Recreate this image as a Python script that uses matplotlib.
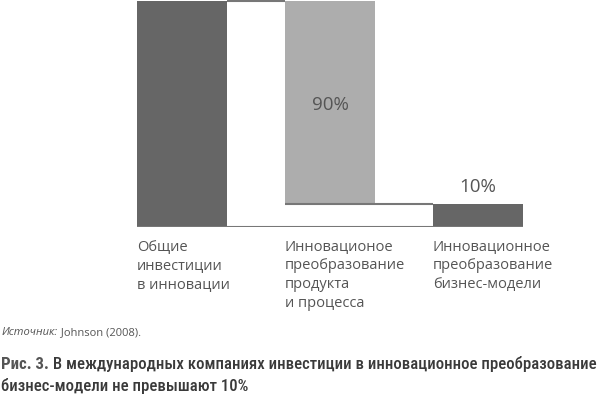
import matplotlib
matplotlib.use("Agg")
import matplotlib.pyplot as plt
from matplotlib import font_manager
import numpy as np

# data (waterfall: total -> product/process -> business model)
categories = ["Общие\nинвестиции\nв инновации",
              "Инновационое\nпреобразование\nпродукта\nи процесса",
              "Инновационное\nпреобразование\nбизнес-модели"]
values = [100, 90, 10]
bottoms = [0, 10, 0]
value_labels = ["", "90%", "10%"]
bar_colors = ["#666666", "#adadad", "#666666"]

source_lead = "Источник:"
source_rest = " Johnson (2008)."
caption_lead = "Рис. 3."
caption_line1 = " В международных компаниях инвестиции в инновационное преобразование"
caption_line2 = "бизнес-модели не превышают 10%"

names = {f.name for f in font_manager.fontManager.ttflist}
narrow = None
for cand in ["Liberation Sans Narrow", "Roboto Condensed", "Open Sans Condensed"]:
    if cand in names:
        narrow = cand
        break
body_font = "Open Sans" if "Open Sans" in names else "DejaVu Sans"

W, H = 600, 398
fig = plt.figure(figsize=(W / 100, H / 100), dpi=100)
ax = fig.add_axes([137 / W, 1 - 227 / H, (523 - 137) / W, 227 / H])

x = np.arange(len(values))
width = 0.61
ax.bar(x, values, width, bottom=bottoms, color=bar_colors, linewidth=0, zorder=2)

# connector lines and baseline
line_kw = dict(color="#777777", lw=1.5, zorder=3, solid_capstyle="butt")
ax.plot([x[0] + width / 2, x[1] - width / 2], [values[0], values[0]], **line_kw)
ax.plot([x[1] - width / 2, x[2] - width / 2], [bottoms[1], bottoms[1]], **line_kw)
ax.plot([x[0] - width / 2, x[2] + width / 2], [0, 0], **line_kw)

ax.text(x[1], bottoms[1] + values[1] * 0.49, value_labels[1], ha="center", va="center",
        fontsize=13.5, color="#555555", family=body_font)
ax.text(x[2], values[2] + 7.8, value_labels[2], ha="center", va="center",
        fontsize=13.5, color="#555555", family=body_font)

ax.set_xlim(-width / 2, x[-1] + width / 2)
ax.set_ylim(0, 100.5)
ax.set_xticks(x - width / 2)
ax.set_xticklabels(categories, ha="left", va="top", fontsize=10.5, color="#555555",
                   family=body_font, linespacing=1.35)
ax.tick_params(axis="x", length=0, pad=9)
ax.set_yticks([])
for s in ax.spines.values():
    s.set_visible(False)

fig.canvas.draw()
r = fig.canvas.get_renderer()

# source line
t = fig.text(2 / W, 1 - 335 / H, source_lead, fontsize=8, style="italic",
             color="#555555", family=body_font, va="baseline")
bb = t.get_window_extent(r)
fig.text(bb.x1 / W, 1 - 335 / H, source_rest, fontsize=8, color="#555555",
         family=body_font, va="baseline")

# caption
cap_fam = [narrow, "DejaVu Sans"] if narrow else ["DejaVu Sans"]
cap_size = 14
t1 = fig.text(1 / W, 1 - 369 / H, caption_lead, fontsize=cap_size, weight="bold",
              color="#555555", family=cap_fam, va="baseline")
bb1 = t1.get_window_extent(r)
t2 = fig.text(bb1.x1 / W, 1 - 369 / H, caption_line1, fontsize=cap_size, weight="medium",
              color="#3a3a3a", family=cap_fam, va="baseline")
bb2 = t2.get_window_extent(r)
scale = (596 - 1) / (bb2.x1 - 1)
if scale < 1:
    for tt in (t1, t2):
        tt.set_fontsize(cap_size * scale)
    fig.canvas.draw()
    bb1 = t1.get_window_extent(r)
    t2.set_x(bb1.x1 / W)
fig.text(1 / W, 1 - 391 / H, caption_line2, fontsize=t2.get_fontsize(), weight="medium",
         color="#3a3a3a", family=cap_fam, va="baseline")

fig.savefig("out.png", dpi=100)
